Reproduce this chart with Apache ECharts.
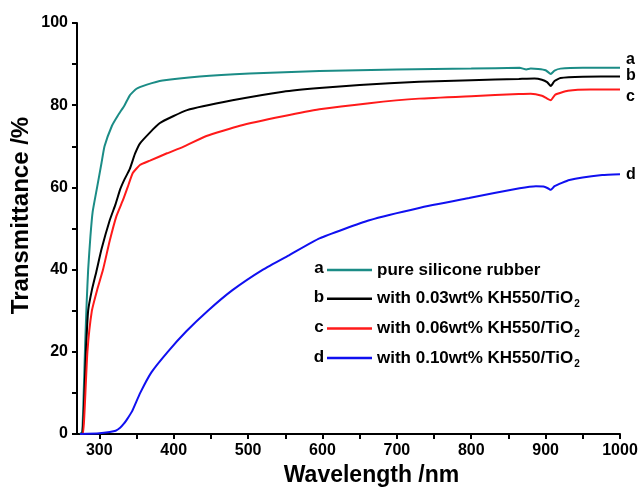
<!DOCTYPE html>
<html>
<head>
<meta charset="utf-8">
<script src="https://cdn.jsdelivr.net/npm/echarts@6/dist/echarts.min.js"></script>
<style>
  html, body { margin: 0; padding: 0; background: #fff; }
  #main { width: 639px; height: 491px; }
</style>
</head>
<body>
<div id="main"></div>
<script>
// wavelength (nm) and transmittance (%)
var waveA = [274, 277, 279, 281, 283, 285, 288, 291, 297, 303, 307, 317, 325, 334, 341, 350, 364, 385, 435, 502, 596, 700, 800, 865, 874, 880, 890, 900, 907, 912, 920, 950, 1000];
var transA = [0, 0.5, 10, 22, 32, 40, 48, 54, 60, 66, 70, 75, 77.5, 80, 82.4, 84, 85, 86, 87, 87.7, 88.3, 88.7, 88.9, 89.1, 88.7, 88.9, 88.8, 88.5, 87.6, 88.4, 88.9, 89.1, 89.1];

var waveB = [274, 277, 279, 282, 285, 290, 296, 303, 314, 322, 328, 334, 341, 348, 355, 381, 418, 479, 547, 596, 650, 730, 800, 864, 885, 895, 902, 907, 912, 920, 950, 1000];
var transB = [0, 0, 5, 20, 30, 35, 39.5, 45, 52, 56, 59.5, 62, 64.5, 68.2, 70.8, 75.6, 78.8, 81.2, 83.3, 84.2, 84.9, 85.7, 86.1, 86.4, 86.5, 86.2, 85.6, 84.7, 85.9, 86.6, 86.9, 87];

var waveC = [274, 278, 280, 284, 290, 297, 305, 314, 323, 332, 338, 345, 355, 368, 391, 412, 444, 489, 547, 596, 663, 730, 800, 864, 880, 895, 902, 907, 913, 930, 960, 1000];
var transC = [0, 0, 5, 20, 30, 35, 40, 47, 53, 57, 60, 63.5, 65.5, 66.5, 68.3, 69.8, 72.5, 75, 77.3, 79, 80.5, 81.6, 82.2, 82.7, 82.8, 82.3, 81.6, 81.2, 82.6, 83.5, 83.8, 83.8];

var waveD = [274, 300, 314, 322, 328, 333, 337, 344, 355, 370, 392, 417, 446, 479, 520, 556, 596, 663, 730, 797, 865, 887, 897, 903, 907, 912, 932, 976, 1000];
var transD = [0, 0.2, 0.5, 0.8, 1.5, 2.5, 3.5, 5.5, 10, 15, 20, 25, 30, 35, 40, 43.6, 47.6, 52, 55, 57.4, 59.8, 60.3, 60.2, 59.8, 59.4, 60.3, 61.8, 63, 63.2];

var names = ['pure silicone rubber', 'with 0.03wt% KH550/TiO2', 'with 0.06wt% KH550/TiO2', 'with 0.10wt% KH550/TiO2'];
var tags = ['a', 'b', 'c', 'd'];
var colors = ['#1b8c86', '#000000', '#ff1a1a', '#1010f0'];
var xLabels = [300, 400, 500, 600, 700, 800, 900, 1000];
var xTicks = [300, 350, 400, 450, 500, 550, 600, 650, 700, 750, 800, 850, 900, 950, 1000];

var font = '"Liberation Sans", Arial, sans-serif';

function zip(xs, ys) {
  return xs.map(function (x, i) { return [x, ys[i]]; });
}

var allWave = [waveA, waveB, waveC, waveD];
var allTrans = [transA, transB, transC, transD];
var labelOffsets = [[0, -8], [0, -1], [0, 7], [0, 0]];

var series = names.map(function (n, i) {
  return {
    name: n,
    type: 'line',
    data: zip(allWave[i], allTrans[i]),
    symbol: 'none',
    smooth: 0.15,
    lineStyle: { color: colors[i], width: 2 },
    itemStyle: { color: colors[i] },
    endLabel: {
      show: true,
      formatter: tags[i],
      offset: labelOffsets[i],
      distance: 6,
      fontFamily: font,
      fontWeight: 'bold',
      fontSize: 16,
      color: '#000'
    }
  };
});

var chart = echarts.init(document.getElementById('main'));
chart.setOption({
  animation: false,
  backgroundColor: '#fff',
  grid: { left: 77, right: 19, top: 23, bottom: 57, containLabel: false, outerBoundsMode: 'none' },
  xAxis: {
    type: 'value',
    min: 270,
    max: 1000,
    name: 'Wavelength /nm',
    nameLocation: 'middle',
    nameGap: 28,
    nameTextStyle: { fontFamily: font, fontWeight: 'bold', fontSize: 23, color: '#000', padding: [0, 0, 0, 46] },
    axisLine: { lineStyle: { color: '#000', width: 2 } },
    axisTick: { show: true, length: 5, lineStyle: { color: '#000', width: 2 }, customValues: xTicks },
    axisLabel: {
      customValues: xLabels, margin: 9,
      fontFamily: font, fontWeight: 'bold', fontSize: 16, color: '#000',
      formatter: function (v) { return String(v); }
    },
    splitLine: { show: false }
  },
  yAxis: {
    type: 'value',
    min: 0,
    max: 100,
    interval: 10,
    name: 'Transmittance /%',
    nameLocation: 'middle',
    nameGap: 44,
    nameMoveOverlap: false,
    nameTextStyle: { fontFamily: font, fontWeight: 'bold', fontSize: 24, color: '#000', padding: [0, 0, 0, 26] },
    axisLine: { show: true, lineStyle: { color: '#000', width: 2 } },
    axisTick: { show: true, length: 5, lineStyle: { color: '#000', width: 2 } },
    axisLabel: {
      margin: 9,
      fontFamily: font, fontWeight: 'bold', fontSize: 16, color: '#000',
      formatter: function (v) { return v % 20 === 0 ? String(v) : ''; }
    },
    splitLine: { show: false }
  },
  legend: {
    orient: 'vertical',
    left: 322,
    top: 255,
    icon: 'rect',
    itemWidth: 45,
    itemHeight: 2.5,
    itemGap: 8.7,
    data: names,
    formatter: function (n) { return n.replace('TiO2', 'TiO{sub|2}'); },
    textStyle: {
      fontFamily: font, fontWeight: 'bold', fontSize: 17, color: '#000', lineHeight: 20,
      rich: {
        sub: { fontFamily: font, fontWeight: 'bold', fontSize: 10, color: '#000', padding: [12, 0, 0, 1] }
      }
    }
  },
  graphic: tags.map(function (t, i) {
    return {
      type: 'text',
      x: 319,
      y: 268 + i * 29.7,
      style: {
        text: t,
        font: 'bold 17px ' + font,
        fill: '#000',
        align: 'center',
        verticalAlign: 'middle'
      }
    };
  }),
  series: series
});
</script>
</body>
</html>
